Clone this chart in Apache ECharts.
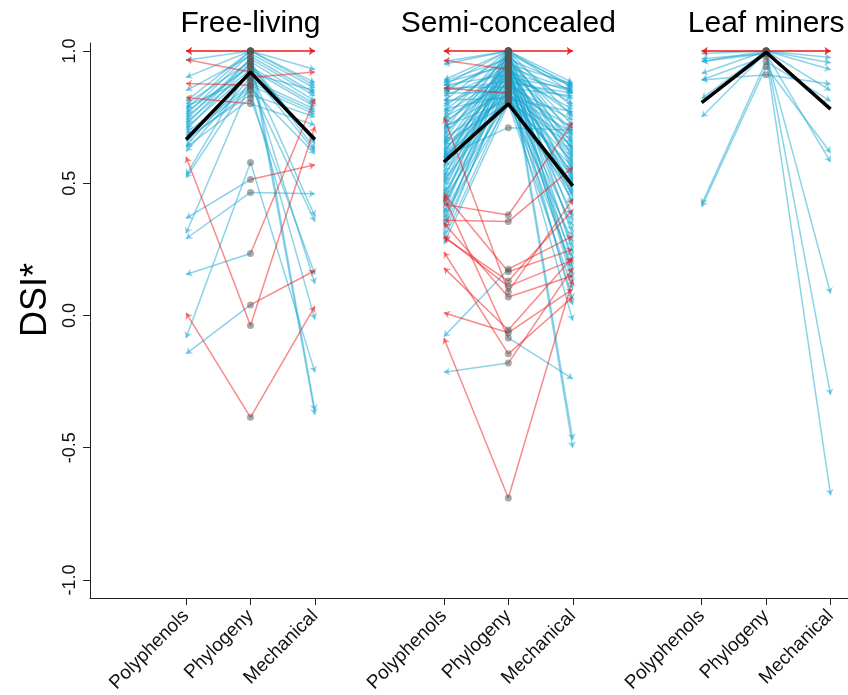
<!DOCTYPE html>
<html><head><meta charset="utf-8">
<script src="https://cdn.jsdelivr.net/npm/echarts@6/dist/echarts.min.js"></script>
<style>html,body{margin:0;padding:0;background:#fff}#c{width:848px;height:695px}</style>
</head><body><div id="c"></div>
<script>
// ---- categories / ticks ----
const positionNames = ['Polyphenols', 'Phylogeny', 'Mechanical'];
const groupNames = ['Free-living', 'Semi-concealed', 'Leaf miners'];
const groupOffsets = [0, 4, 8];
const yTicks = [-1, -0.5, 0, 0.5, 1];
const yTitle = 'DSI*';

// ---- Free-living (DSI* per species) ----
const freePhylo = [1.00,1.00,1.00,1.00,1.00,1.00,1.00,0.99,0.98,0.97,0.97,0.96,0.955,0.95,0.94,0.94,0.93,0.92,0.92,0.915,0.90,0.90,0.89,0.88,0.87,0.87,0.86,0.85,0.835,0.82,0.80,0.578,0.514,0.465,0.234,0.04,-0.038,-0.385];
const freePoly  = [1.00,1.00,1.00,0.965,0.90,0.81,0.78,0.76,0.85,0.74,0.72,0.80,0.70,0.75,0.53,0.77,0.73,0.968,0.71,0.64,0.79,0.62,0.52,0.31,0.877,0.69,0.68,0.66,0.67,0.635,0.824,-0.085,0.367,0.29,0.155,-0.145,0.60,0.01];
const freeMech  = [1.00,1.00,1.00,0.93,0.88,0.87,-0.36,0.86,0.84,-0.375,0.83,0.81,0.65,0.63,0.80,0.66,0.79,0.62,0.375,0.85,0.92,0.12,0.78,0.77,0.76,0.355,0.61,-0.015,0.75,0.155,0.72,-0.215,0.57,0.46,0.82,0.17,0.715,0.035];

// ---- Semi-concealed ----
const semiPhylo = [1.00,1.00,1.00,1.00,1.00,1.00,1.00,1.00,1.00,1.00,1.00,1.00,
  0.99,0.99,0.98,0.98,0.975,0.97,0.97,0.97,0.965,0.96,0.96,0.955,0.95,0.95,0.95,
  0.945,0.94,0.94,0.935,0.93,0.93,0.925,0.92,0.92,0.915,0.91,0.91,0.905,0.90,0.90,
  0.895,0.89,0.89,0.885,0.88,0.88,0.875,0.87,0.865,0.86,0.86,0.855,0.85,0.85,0.845,
  0.84,0.84,0.835,0.83,0.83,0.825,0.82,0.82,0.815,0.81,0.81,0.805,0.805,0.80,0.80,
  0.71,0.38,0.355,0.175,0.165,0.13,0.11,0.09,0.07,-0.055,-0.065,-0.085,-0.145,-0.18,-0.69];
const semiPoly = [1.00,1.00,1.00,0.96,0.89,0.74,0.56,0.81,0.43,0.87,0.66,0.95,
  0.70,0.52,0.845,0.61,0.39,0.885,0.77,0.47,0.64,0.855,0.58,0.34,0.79,0.68,0.50,
  0.88,0.72,0.45,0.60,0.965,0.83,0.41,0.76,0.545,0.69,0.87,0.36,0.62,0.80,0.49,
  0.73,0.595,0.305,0.85,0.655,0.53,0.75,0.42,0.86,0.59,0.33,0.71,0.585,0.46,0.84,
  0.86,0.63,0.385,0.78,0.51,0.67,0.29,0.815,0.57,0.715,0.44,0.65,0.37,0.60,0.27,
  0.60,0.42,0.36,-0.08,0.46,0.295,0.30,0.75,0.35,0.18,0.01,0.45,0.24,-0.215,-0.085];
const semiMech = [1.00,1.00,1.00,0.88,0.62,0.30,0.86,-0.47,0.75,0.14,0.84,0.55,
  0.87,0.42,0.79,-0.50,0.68,0.24,0.865,0.60,0.36,0.72,0.12,0.80,0.51,0.875,0.45,
  0.65,0.20,0.85,0.57,0.76,0.04,0.70,0.845,0.32,0.63,0.48,0.78,0.16,0.855,0.59,
  0.38,0.82,0.53,0.67,0.26,0.84,0.495,0.06,0.74,0.61,0.83,0.43,0.71,-0.02,0.58,
  0.52,0.22,0.69,0.54,0.34,0.66,0.47,0.77,0.18,0.56,0.64,0.28,0.50,0.10,0.46,
  0.70,0.73,0.56,0.30,0.25,0.40,0.21,0.44,0.15,0.22,0.10,-0.24,0.07,0.18,0.136];

// ---- Leaf miners ----
const leafPhylo = [1.00,1.00,1.00,1.00,1.00,1.00,1.00,0.995,0.99,0.98,0.96,0.94,0.91,0.99];
const leafPoly  = [1.00,1.00,1.00,0.99,0.96,0.915,0.82,0.75,0.96,0.89,0.42,0.41,0.89,0.97];
const leafMech  = [1.00,1.00,1.00,0.975,0.955,0.93,0.85,-0.30,0.083,-0.68,0.81,0.615,0.875,0.58];

// ---- thick black summary lines (Polyphenols, Phylogeny, Mechanical) ----
const freeCenter = [0.665, 0.92, 0.665];
const semiCenter = [0.58, 0.80, 0.49];
const leafCenter = [0.805, 0.995, 0.78];

const groups = [
  {phylo: freePhylo, poly: freePoly, mech: freeMech, center: freeCenter},
  {phylo: semiPhylo, poly: semiPoly, mech: semiMech, center: semiCenter},
  {phylo: leafPhylo, poly: leafPoly, mech: leafMech, center: leafCenter}
];

const blueLines = [], redLines = [], dots = [], centerSeries = [];
groups.forEach((g, gi) => {
  const o = groupOffsets[gi];
  g.phylo.forEach((p, i) => {
    [[o, g.poly[i]], [o + 2, g.mech[i]]].forEach(([x, v]) => {
      const item = {coords: [[o + 1, p], [x, v]]};
      (v >= p ? redLines : blueLines).push(item);
    });
    dots.push([o + 1, p]);
  });
  centerSeries.push({
    type: 'line', data: g.center.map((v, k) => [o + k, v]),
    symbol: 'none', lineStyle: {color: '#000', width: 3.5}, z: 10, silent: true
  });
});

const tickPos = [];
groupOffsets.forEach(o => positionNames.forEach((n, k) => tickPos.push(o + k)));

const FONT = '"Liberation Sans", Arial, sans-serif';
const chart = echarts.init(document.getElementById('c'), null, {renderer: 'canvas'});
const option = {
  animation: false,
  backgroundColor: '#fff',
  grid: {left: 90, right: 0, top: 43, bottom: 97, containLabel: false, outerBoundsMode: 'none'},
  xAxis: {
    type: 'value', min: -1.49, max: 10.27,
    axisLine: {show: true, onZero: false, lineStyle: {color: '#222', width: 1}},
    axisTick: {show: true, customValues: tickPos, length: 7, lineStyle: {color: '#222'}},
    axisLabel: {customValues: tickPos, rotate: 45, margin: 15, fontSize: 19, color: '#111', fontFamily: FONT,
      formatter: v => positionNames[Math.round(v) % 4]},
    splitLine: {show: false}
  },
  yAxis: {
    type: 'value', min: -1.068, max: 1.03,
    axisLine: {show: true, onZero: false, lineStyle: {color: '#222', width: 1}},
    axisTick: {show: true, customValues: yTicks, length: 7, lineStyle: {color: '#222'}},
    axisLabel: {customValues: yTicks, rotate: 90, margin: 11, fontSize: 18, color: '#111', fontFamily: FONT,
      formatter: v => v.toFixed(1)},
    splitLine: {show: false}
  },
  series: [
    {type: 'lines', coordinateSystem: 'cartesian2d', data: blueLines, silent: true,
      symbol: ['none', 'arrow'], symbolSize: 6,
      lineStyle: {color: '#1aa7d1', width: 1.5, opacity: 0.5, curveness: 0}, z: 2},
    {type: 'lines', coordinateSystem: 'cartesian2d', data: redLines, silent: true,
      symbol: ['none', 'arrow'], symbolSize: 6,
      lineStyle: {color: '#f01818', width: 1.5, opacity: 0.5, curveness: 0}, z: 3},
    {type: 'scatter', data: dots, symbolSize: 7, silent: true,
      itemStyle: {color: '#555', opacity: 0.5}, z: 4},
    ...centerSeries
  ]
};
chart.setOption(option);
const titles = groupNames.map((n, i) => {
  const px = chart.convertToPixel({gridIndex: 0}, [groupOffsets[i] + 1, 1]);
  return {type: 'text', x: px[0], y: 24, silent: true,
    style: {text: n, font: '30px ' + FONT, fill: '#000', textAlign: 'center', textVerticalAlign: 'middle', align: 'center', verticalAlign: 'middle'}};
});
titles.push({type: 'text', x: 36, y: 300, rotation: Math.PI / 2, silent: true,
  style: {text: yTitle, font: '36px ' + FONT, fill: '#000', textAlign: 'center', textVerticalAlign: 'middle', align: 'center', verticalAlign: 'middle'}});
chart.setOption({graphic: titles});
</script>
</body></html>
